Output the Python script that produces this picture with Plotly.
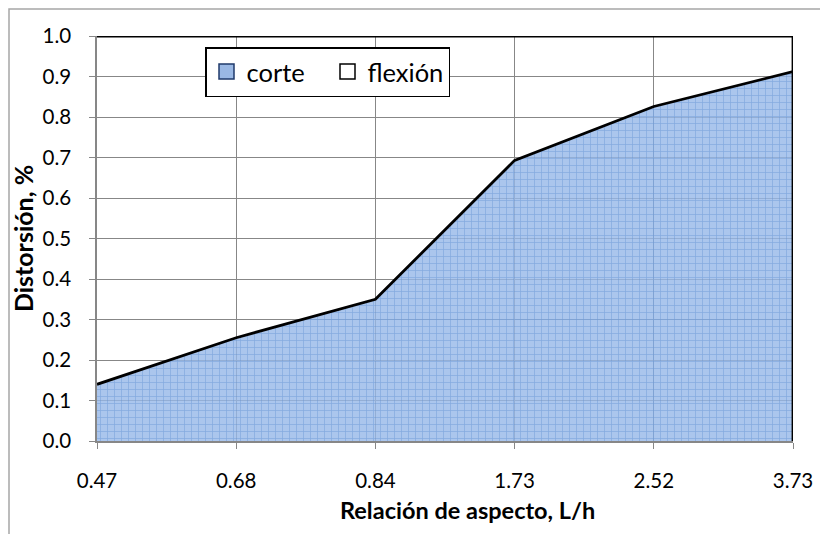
import plotly.graph_objects as go

categories = ["0.47", "0.68", "0.84", "1.73", "2.52", "3.73"]
corte = [0.14, 0.255, 0.35, 0.693, 0.826, 0.912]
flexion_top = [1.0, 1.0, 1.0, 1.0, 1.0, 1.0]
y_ticks = [0.0, 0.1, 0.2, 0.3, 0.4, 0.5, 0.6, 0.7, 0.8, 0.9, 1.0]

# page body has an 8px margin -> figure drawn at (8,8)
W, H = 820, 526
L, R, T, B = 89, 35, 28, 93
pw, ph = W - L - R, H - T - B
OX, OY = 8, 8  # page offset

xi = list(range(len(categories)))
FONT = "Lato, 'Open Sans', sans-serif"

fig = go.Figure()
fig.add_trace(go.Scatter(
    x=xi, y=corte, name="corte", mode="lines", showlegend=False,
    line=dict(color="black", width=2.8),
    fill="tozeroy",
    fillcolor="rgba(150,185,232,0.8)",
    fillpattern=dict(shape="+", fgcolor="#5f8ed2", bgcolor="rgba(150,184,232,0.8)",
                     size=7, solidity=0.2),
))
fig.add_trace(go.Scatter(
    x=xi, y=flexion_top, name="flexión", mode="lines", showlegend=False,
    line=dict(color="black", width=2.8),
    fill="tonexty", fillcolor="rgba(255,255,255,0)",
))
# legend entries
fig.add_trace(go.Scatter(
    x=[None], y=[None], name="corte", mode="markers",
    marker=dict(symbol="square", size=15, color="#9ab8e4",
                line=dict(color="#1f3a6b", width=1.5)),
))
fig.add_trace(go.Scatter(
    x=[None], y=[None], name="flexión", mode="markers",
    marker=dict(symbol="square", size=15, color="white",
                line=dict(color="black", width=1.5)),
))

# right edge of the area
fig.add_shape(type="line", xref="x", yref="y",
              x0=xi[-1], x1=xi[-1], y0=0, y1=flexion_top[-1],
              line=dict(color="black", width=2.8), layer="above")

# outer chart border (partially cropped)
fig.add_shape(type="rect", xref="paper", yref="paper",
              x0=(1 - L) / pw, x1=(W + 20 - L) / pw,
              y0=-(H + 20 - (T + ph)) / ph, y1=(T + ph - 1) / ph,
              line=dict(color="#a6a6a6", width=1.5), fillcolor="rgba(0,0,0,0)",
              layer="below")

# x-axis title (offset to the right as in the original)
fig.add_annotation(
    text="<b>Relación de aspecto, L/h</b>", xref="paper", yref="paper",
    x=(467 - OX - L) / pw, y=-(510 - OY - (T + ph)) / ph,
    xanchor="center", yanchor="middle", showarrow=False,
    font=dict(family=FONT, size=23.5, color="black"),
)

fig.update_layout(
    width=W, height=H,
    margin=dict(l=L, r=R, t=T, b=B),
    paper_bgcolor="white", plot_bgcolor="white",
    font=dict(family=FONT, size=20, color="black"),
    showlegend=True,
    legend=dict(
        orientation="h", traceorder="normal",
        x=(205 - OX - L) / pw, y=(T + ph - (47 - OY)) / ph,
        xanchor="left", yanchor="top",
        bordercolor="black", borderwidth=1.5, bgcolor="white",
        font=dict(family=FONT, size=25.5, color="black"),
        itemwidth=30, entrywidth=76,
    ),
    xaxis=dict(
        range=[0, len(categories) - 1],
        tickmode="array", tickvals=xi, ticktext=categories,
        showgrid=True, gridcolor="#878787", gridwidth=1.3,
        showline=True, linecolor="#878787", linewidth=1.5,
        ticks="outside", ticklen=6, tickcolor="#878787",
        ticklabelstandoff=15,
        zeroline=False,
        tickfont=dict(size=20.5),
    ),
    yaxis=dict(
        range=[0, 1], tickmode="array", tickvals=y_ticks,
        tickformat=".1f",
        showgrid=True, gridcolor="#878787", gridwidth=1.3,
        showline=True, linecolor="#878787", linewidth=1.5,
        ticks="outside", ticklen=6, tickcolor="#878787",
        ticklabelstandoff=14,
        zeroline=False,
        tickfont=dict(size=20.5),
        title=dict(text="<b>Distorsión, %</b>", font=dict(size=25), standoff=2),
    ),
)

fig.write_html("out.html")
